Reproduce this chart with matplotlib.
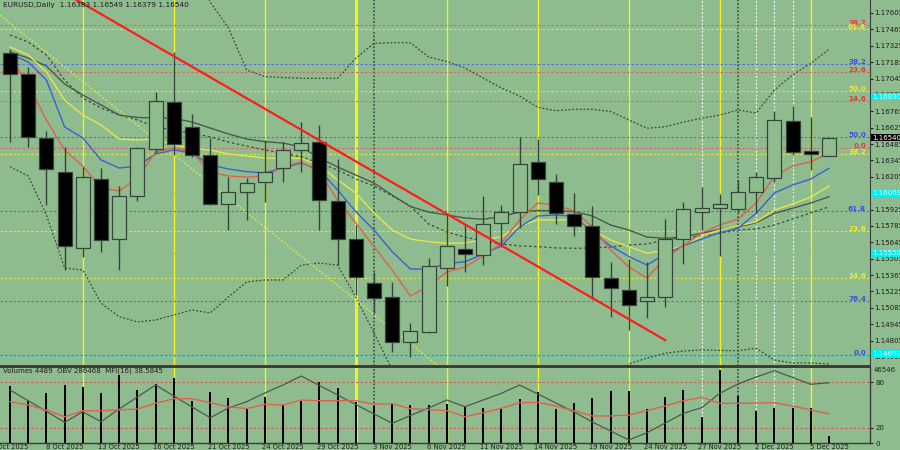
import numpy as np
import matplotlib.pyplot as plt
from matplotlib.transforms import blended_transform_factory

# ============================================
#  DADOS (lidos do gráfico EURUSD, Daily)
# ============================================
opens = [1.17260, 1.17081, 1.16534, 1.16246, 1.15593, 1.16183, 1.15675, 1.16043, 1.16445, 1.16842,
         1.16628, 1.16391, 1.15969, 1.16077, 1.16157, 1.16277, 1.16434, 1.16500, 1.16000, 1.15670,
         1.15294, 1.15174, 1.14795, 1.14880, 1.15422, 1.15585, 1.15536, 1.15807, 1.15901, 1.16328,
         1.16157, 1.15886, 1.15784, 1.15337, 1.15237, 1.15143, 1.15179, 1.15670, 1.15901, 1.15935,
         1.15927, 1.16072, 1.16192, 1.16682, 1.16425, 1.16383]
highs = [1.17297, 1.17141, 1.16599, 1.16462, 1.16286, 1.16282, 1.16128, 1.16462, 1.16927, 1.17269,
         1.16741, 1.16534, 1.16205, 1.16192, 1.16519, 1.16505, 1.16676, 1.16647, 1.16354, 1.15792,
         1.15393, 1.15308, 1.14957, 1.15508, 1.15892, 1.15801, 1.16040, 1.15963, 1.16547, 1.16525,
         1.16228, 1.16063, 1.15955, 1.15479, 1.15499, 1.15479, 1.15841, 1.15992, 1.16115, 1.16057,
         1.16177, 1.16248, 1.16767, 1.16810, 1.16718, 1.16549]
lows = [1.16505, 1.16462, 1.15963, 1.15408, 1.15521, 1.15559, 1.15408, 1.15998, 1.16405, 1.16391,
        1.16376, 1.15963, 1.15750, 1.15835, 1.15992, 1.16163, 1.16248, 1.15750, 1.15450, 1.15194,
        1.15037, 1.14709, 1.14666, 1.14866, 1.15271, 1.15393, 1.15450, 1.15607, 1.15764, 1.16049,
        1.15801, 1.15698, 1.15157, 1.15003, 1.14895, 1.14995, 1.15094, 1.15456, 1.15750, 1.15527,
        1.15904, 1.15892, 1.16160, 1.16391, 1.16263, 1.16379]
closes = [1.17084, 1.16542, 1.16269, 1.15613, 1.16200, 1.15664, 1.16040, 1.16448, 1.16853, 1.16485,
          1.16391, 1.15969, 1.16077, 1.16154, 1.16243, 1.16434, 1.16496, 1.16006, 1.15670, 1.15350,
          1.15166, 1.14789, 1.14889, 1.15442, 1.15615, 1.15544, 1.15798, 1.15901, 1.16311, 1.16183,
          1.15892, 1.15784, 1.15350, 1.15251, 1.15108, 1.15174, 1.15670, 1.15927, 1.15935, 1.15969,
          1.16072, 1.16200, 1.16690, 1.16419, 1.16399, 1.16540]

# medias moveis
ma_red = [1.17229, 1.16990, 1.16691, 1.16434, 1.16297, 1.16109, 1.16084, 1.16195, 1.16417, 1.16451,
          1.16417, 1.16246, 1.16212, 1.16203, 1.16212, 1.16289, 1.16332, 1.16246, 1.16007, 1.15810,
          1.15608, 1.15408, 1.15186, 1.15272, 1.15391, 1.15434, 1.15528, 1.15639, 1.15836, 1.15981,
          1.15964, 1.15913, 1.15776, 1.15579, 1.15434, 1.15340, 1.15511, 1.15614, 1.15725, 1.15793,
          1.15844, 1.15981, 1.16212, 1.16297, 1.16334, 1.16406]
ma_blue = [1.17255, 1.17186, 1.17032, 1.16631, 1.16537, 1.16349, 1.16280, 1.16297, 1.16400, 1.16434,
           1.16408, 1.16306, 1.16272, 1.16249, 1.16238, 1.16280, 1.16323, 1.16263, 1.16092, 1.15907,
           1.15750, 1.15565, 1.15417, 1.15417, 1.15464, 1.15479, 1.15545, 1.15614, 1.15776, 1.15870,
           1.15879, 1.15866, 1.15733, 1.15614, 1.15524, 1.15451, 1.15545, 1.15614, 1.15673, 1.15727,
           1.15765, 1.15893, 1.16067, 1.16135, 1.16186, 1.16278]
ma_yellow = [1.17314, 1.17246, 1.17101, 1.16861, 1.16733, 1.16648, 1.16528, 1.16520, 1.16528, 1.16477,
             1.16449, 1.16434, 1.16400, 1.16383, 1.16366, 1.16363, 1.16363, 1.16306, 1.16178, 1.16067,
             1.15896, 1.15750, 1.15673, 1.15650, 1.15637, 1.15639, 1.15665, 1.15693, 1.15785, 1.15836,
             1.15836, 1.15840, 1.15750, 1.15665, 1.15608, 1.15551, 1.15579, 1.15608, 1.15699, 1.15750,
             1.15785, 1.15821, 1.15921, 1.15973, 1.16032, 1.16126]
ma_gray = [1.17272, 1.17220, 1.17152, 1.16998, 1.16904, 1.16819, 1.16733, 1.16712, 1.16708, 1.16705,
           1.16673, 1.16622, 1.16571, 1.16528, 1.16505, 1.16494, 1.16460, 1.16366, 1.16289, 1.16220,
           1.16152, 1.16049, 1.15951, 1.15904, 1.15879, 1.15853, 1.15842, 1.15866, 1.15904, 1.15917,
           1.15913, 1.15908, 1.15870, 1.15793, 1.15750, 1.15690, 1.15679, 1.15693, 1.15722, 1.15756,
           1.15778, 1.15813, 1.15893, 1.15936, 1.15981, 1.16035]

# bandas de bollinger (pontilhadas)
bb_mid = [1.17417, 1.17357, 1.17246, 1.17032, 1.16879, 1.16793, 1.16733, 1.16691, 1.16631, 1.16605,
          1.16579, 1.16545, 1.16502, 1.16468, 1.16434, 1.16408, 1.16374, 1.16323, 1.16263, 1.16186,
          1.16126, 1.16041, 1.15955, 1.15802, 1.15733, 1.15690, 1.15656, 1.15631, 1.15614, 1.15608,
          1.15597, 1.15594, 1.15597, 1.15605, 1.15622, 1.15631, 1.15665, 1.15686, 1.15699, 1.15722,
          1.15750, 1.15759, 1.15793, 1.15844, 1.15896, 1.15949]
bb_up = [1.18543, 1.18502, 1.18614, 1.18639, 1.18349, 1.18460, 1.18457, 1.18417, 1.18280, 1.18186,
         1.18092, 1.17699, 1.17477, 1.17118, 1.17062, 1.17054, 1.17047, 1.17047, 1.17047, 1.17218,
         1.17346, 1.17351, 1.17351, 1.17229, 1.17190, 1.17135, 1.17049, 1.16964, 1.16896, 1.16799,
         1.16770, 1.16782, 1.16782, 1.16763, 1.16691, 1.16620, 1.16633, 1.16673, 1.16705, 1.16733,
         1.16776, 1.16750, 1.16947, 1.17075, 1.17175, 1.17295]
bb_low = [1.16291, 1.16212, 1.15879, 1.15426, 1.15408, 1.15126, 1.15009, 1.14964, 1.14981, 1.15024,
          1.15067, 1.15041, 1.15178, 1.15306, 1.15323, 1.15323, 1.15450, 1.15468, 1.15450, 1.15178,
          1.14870, 1.14554, 1.14426, 1.14340, 1.14280, 1.14246, 1.14263, 1.14297, 1.14332, 1.14417,
          1.14426, 1.14408, 1.14408, 1.14447, 1.14605, 1.14656, 1.14697, 1.14716, 1.14725, 1.14721,
          1.14719, 1.14739, 1.14639, 1.14614, 1.14614, 1.14605]

# janela inferior: volumes, OBV, MFI(16)
volumes = [36340, 26780, 31880, 37170, 35700, 31880, 43360, 33790, 37620, 41640,
           26970, 32520, 28690, 21870, 29520, 24230, 26970, 39080, 35070, 26140,
           23780, 24870, 24230, 24230, 24670, 23780, 22120, 21680, 27860, 32710,
           21680, 25310, 28500, 33160, 33160, 21490, 29140, 33790, 16770, 46546,
           29970, 20590, 22510, 22510, 22120, 4489]
obv = [263100, 228870, 194950, 159750, 193670, 161670, 202310, 240710, 279110, 243910,
       208710, 174470, 205510, 225670, 253510, 279110, 307910, 277510, 247110, 216710,
       186310, 156550, 181510, 205510, 231110, 209670, 231110, 252550, 279110, 250310,
       221510, 192710, 160710, 131910, 103110, 126470, 157510, 188550, 206470, 252550,
       282310, 304710, 324870, 303110, 281350, 286468]
mfi = [54.3, 50.0, 43.5, 34.7, 42.6, 42.6, 43.5, 44.8, 52.2, 58.2,
       58.2, 53.0, 47.8, 45.2, 50.9, 50.0, 56.5, 55.6, 55.6, 55.6,
       50.9, 51.7, 45.2, 43.9, 42.6, 34.7, 40.0, 45.7, 53.0, 53.5,
       48.7, 42.6, 35.7, 35.7, 37.0, 42.6, 48.7, 55.6, 60.0, 52.2,
       52.2, 52.6, 53.0, 48.7, 43.5, 38.5845]

# niveis de fibonacci: (preco, texto, cor)
fib_levels = [(1.17502, "38.2", "red"), (1.17466, "61.8", "yellow"), (1.17166, "38.2", "blue"),
              (1.17101, "23.6", "red"), (1.16938, "50.0", "yellow"), (1.16853, "14.6", "red"),
              (1.16545, "50.0", "blue"), (1.16451, "0.0", "red"), (1.16404, "38.2", "yellow"),
              (1.15916, "61.8", "blue"), (1.15741, "23.6", "yellow"), (1.15342, "14.6", "yellow"),
              (1.15147, "76.4", "blue"), (1.14685, "0.0", "blue")]
cyan_levels = [1.16069, 1.15550, 1.14670]
cyan_labels = [1.16890, 1.16069, 1.15550, 1.14690]

# linhas de tendencia (barra, preco)
red_trend = ([0, 36], [1.18045, 1.14809])
yellow_trend = ([0, 22], [1.17518, 1.14779])

# linhas verticais (indice da barra)
yellow_vlines = [4, 9, 14, 19, 24, 29, 34, 39, 44]
white_vlines = [38, 41, 42, 43]
gray_vlines = [20, 40]

date_idx = [0, 3, 6, 9, 12, 15, 18, 21, 24, 27, 30, 33, 36, 39, 42, 45]
date_labels = ["3 Oct 2025", "8 Oct 2025", "13 Oct 2025", "16 Oct 2025", "21 Oct 2025",
               "24 Oct 2025", "29 Oct 2025", "3 Nov 2025", "6 Nov 2025", "11 Nov 2025",
               "14 Nov 2025", "19 Nov 2025", "24 Nov 2025", "27 Nov 2025", "2 Dec 2025",
               "5 Dec 2025"]
price_ticks = [1.17605 - 0.0014 * k for k in range(22)]

# ============================================
#  ESTILO
# ============================================
BG = '#8fbc8f'
EDGE = '#36453a'
C_RED = '#e0604c'
C_BLUE = '#3d5fd6'
C_YEL = '#e6e64a'
C_GRAY = '#4b5a4b'
C_DOT = '#3b4a3b'
fib_colors = {"red": ('#e26060', '#e03c3c'), "yellow": ('#e6e63c', '#e8e840'),
              "blue": ('#5468e0', '#3c50e0')}

plt.rcParams['font.family'] = 'DejaVu Sans'

W, H = 900, 450
fig = plt.figure(figsize=(9, 4.5), dpi=100, facecolor=BG)
ax = fig.add_axes([0, (H - 366) / H, 870 / W, 366 / H], facecolor=BG)
axv = fig.add_axes([0, (H - 443.3) / H, 870 / W, 76.6 / H], facecolor=BG)

xlim = (-10 / 18.2, 860 / 18.2)
idx = np.arange(len(opens))

# ---------------- janela principal ----------------
ax.set_xlim(*xlim)
ax.set_ylim(1.145879, 1.177161)

for i in yellow_vlines:
    lw = 2.2 if i == 19 else 1.0
    ax.axvline(i, color='#f2f21e', lw=lw, zorder=1)
    axv.axvline(i, color='#f2f21e', lw=lw, zorder=0)
for i in white_vlines:
    ax.axvline(i, color='#f4f4f4', lw=0.9, ls=(0, (1.5, 1.5)), zorder=1)
    axv.axvline(i, color='#f4f4f4', lw=0.9, ls=(0, (1.5, 1.5)), zorder=0)
for i in gray_vlines:
    ax.axvline(i, color='#4a554a', lw=1.3, ls=(0, (1, 1)), zorder=1)
    axv.axvline(i, color='#4a554a', lw=1.3, ls=(0, (1, 1)), zorder=0)

bt = blended_transform_factory(ax.transAxes, ax.transData)
for price, txt, col in fib_levels:
    lc, tc = fib_colors[col]
    ax.axhline(price, color=lc, lw=0.8, ls=(0, (2, 2)), zorder=1)
    ax.text(866 / 870, price, txt, transform=bt, ha='right', va='baseline',
            fontsize=5.2, color=tc, fontweight='bold', zorder=6)
for price in cyan_levels:
    ax.axhline(price, color='#3fd6c6', lw=0.8, ls=(0, (2, 2)), zorder=1)

ax.plot(idx, bb_up, color=C_DOT, lw=0.9, ls=(0, (1.5, 1.5)), zorder=2)
ax.plot(idx, bb_low, color=C_DOT, lw=0.9, ls=(0, (1.5, 1.5)), zorder=2)
ax.plot(idx, bb_mid, color=C_DOT, lw=0.9, ls=(0, (2, 2)), zorder=2)
ax.axline((yellow_trend[0][0], yellow_trend[1][0]), (yellow_trend[0][1], yellow_trend[1][1]),
          color='#e8e84a', lw=0.9, ls=(0, (1.5, 1.5)), zorder=2)
ax.plot(idx, ma_gray, color=C_GRAY, lw=1.0, zorder=2)
ax.plot(idx, ma_yellow, color=C_YEL, lw=1.0, zorder=2)
ax.plot(idx, ma_blue, color=C_BLUE, lw=1.0, zorder=2)
ax.plot(idx, ma_red, color=C_RED, lw=1.0, zorder=2)
ax.plot(red_trend[0], red_trend[1], color='#ff1c1c', lw=1.6, zorder=5)

o = np.array(opens)
c = np.array(closes)
up = c >= o
body_lo = np.minimum(o, c)
body_h = np.maximum(np.abs(c - o), 0.00004)
ax.vlines(idx, lows, highs, color=EDGE, lw=1.0, zorder=3)
ax.bar(idx, body_h, bottom=body_lo, width=0.76, color=np.where(up, BG, 'black'),
       edgecolor=EDGE, linewidth=0.9, zorder=4)

ax.yaxis.tick_right()
ax.set_yticks(price_ticks)
ax.set_yticklabels([f"{p:.5f}" for p in price_ticks])
ax.tick_params(axis='y', direction='out', length=2.5, width=0.8, pad=0.8,
               labelsize=5.0, colors='#1e1e1e')
ax.set_xticks([])
for s in ['top', 'left']:
    ax.spines[s].set_visible(False)
ax.spines['right'].set_color('#3c3c3c')
ax.spines['bottom'].set_color('#3c3c3c')
ax.spines['bottom'].set_linewidth(1.4)

# etiquetas no eixo de precos
for price in cyan_labels:
    ax.text(1.002, price, f"{price:.5f}", transform=bt, ha='left', va='center',
            fontsize=5.0, color='#d8ffff', zorder=7, clip_on=False,
            bbox=dict(facecolor='#00f0f0', edgecolor='none', pad=0.6))
ax.text(1.002, closes[-1], f"{closes[-1]:.5f}", transform=bt, ha='left', va='center',
        fontsize=5.0, color='white', zorder=7, clip_on=False,
        bbox=dict(facecolor='black', edgecolor='none', pad=0.6))

fig.text(3 / W, 1 - 4.5 / H,
         f"EURUSD,Daily  {opens[-1]:.5f} {highs[-1]:.5f} {lows[-1]:.5f} {closes[-1]:.5f}",
         fontsize=5.3, color='#1e1e1e', va='center', ha='left')

# ---------------- janela inferior ----------------
axv.set_xlim(*xlim)
axv.set_ylim(0, 100)
axv.axhline(80, color='#e05050', lw=0.8, ls=(0, (2, 2)), zorder=1)
axv.axhline(20, color='#e05050', lw=0.8, ls=(0, (2, 2)), zorder=1)

axvol = axv.twinx()
axvol.set_xlim(*xlim)
axvol.set_ylim(0, 48640)
axvol.bar(idx, volumes, width=0.1, color='black', zorder=3)

axobv = axv.twinx()
axobv.set_xlim(*xlim)
axobv.set_ylim(92548, 337668)
axobv.plot(idx, obv, color=C_GRAY, lw=0.9)
axobv.set_yticks([])

axm = axv.twinx()
axm.set_xlim(*xlim)
axm.set_ylim(0, 100)
axm.plot(idx, mfi, color=C_RED, lw=1.0)
axm.set_yticks([0, 20, 80])
axm.set_yticklabels(["0", "20", "80"])
axm.tick_params(axis='y', length=2, pad=2, labelsize=5.0, colors='#1e1e1e')

axvol.set_yticks([max(volumes)])
axvol.set_yticklabels([str(max(volumes))])
axvol.tick_params(axis='y', length=0, pad=3, labelsize=5.0, colors='#1e1e1e')
axv.set_yticks([])

for a in [axv, axvol, axobv, axm]:
    a.spines['left'].set_visible(False)
    a.spines['right'].set_color('#3c3c3c')
    a.spines['top'].set_color('#3c3c3c')
    a.spines['top'].set_linewidth(1.4)
    a.spines['bottom'].set_color('#3c3c3c')
for a in [axvol, axobv, axm]:
    a.set_xticks([])
    a.patch.set_visible(False)

axv.set_xticks(date_idx)
axv.set_xticklabels(date_labels)
axv.tick_params(axis='x', length=0, pad=0.6, labelsize=4.9, colors='#1e1e1e')

fig.text(3 / W, 1 - 370.5 / H,
         f"Volumes {volumes[-1]}  OBV {obv[-1]}  MFI(16) {mfi[-1]:.4f}",
         fontsize=5.0, color='#1e1e1e', va='center', ha='left')

fig.savefig("out.png", dpi=100, facecolor=BG)
